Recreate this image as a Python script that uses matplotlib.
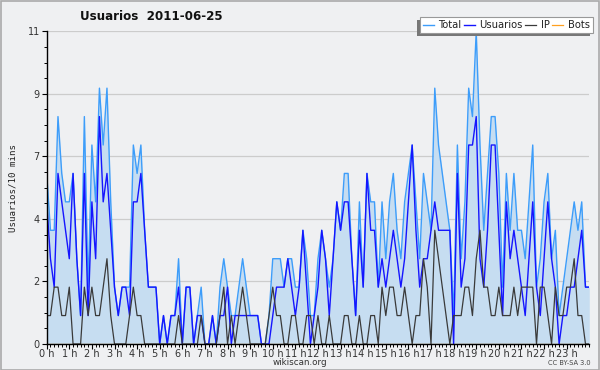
import matplotlib
matplotlib.use("Agg")
import matplotlib.pyplot as plt
from matplotlib.patches import Rectangle
import numpy as np

# values per 10-minute slot, 0h00 .. 24h00
total = [6,4,4,8,6,5,5,6,3,1,8,2,7,5,9,7,9,5,2,1,2,2,2,7,
         6,7,4,2,2,2,0,1,0,1,1,3,0,2,2,0,1,2,0,0,1,0,2,3,
         2,1,1,2,3,2,1,1,1,0,0,1,3,3,3,2,3,3,2,2,4,3,1,1,
         3,4,3,2,3,5,4,6,6,3,1,5,2,6,5,5,2,5,3,5,6,4,3,5,
         6,7,5,3,6,5,4,9,7,6,5,4,1,7,3,5,9,8,11,7,4,6,8,8,
         6,2,6,4,6,4,4,3,5,7,2,3,5,6,3,4,1,2,3,4,5,4,5,2,2]
usuarios = [5,3,2,6,5,4,3,6,3,1,6,1,5,3,8,5,6,4,2,1,2,2,1,5,
            5,6,4,2,2,2,0,1,0,1,1,2,0,2,2,0,1,1,0,0,1,0,1,1,
            2,0,1,1,1,1,1,1,1,0,0,0,1,2,2,2,3,2,1,2,4,2,0,1,
            2,4,3,1,3,5,4,5,5,3,1,4,2,6,4,4,2,3,2,3,4,3,2,3,
            5,7,4,2,3,3,4,5,4,4,4,4,0,6,2,3,7,7,8,3,2,4,7,7,
            4,1,5,3,4,3,2,1,3,5,2,1,3,5,3,2,0,1,1,2,2,3,4,2,2]
ip = [1,1,2,2,1,1,2,0,0,0,2,1,2,1,1,2,3,1,0,0,0,0,1,2,
      1,1,0,0,0,0,0,0,0,0,0,1,0,0,0,0,0,1,0,0,0,0,1,2,
      0,1,0,1,2,1,0,0,0,0,0,1,2,1,1,0,0,1,1,0,0,1,1,0,
      1,0,0,1,0,0,0,1,1,0,0,1,0,0,1,1,0,2,1,2,2,1,1,2,
      1,0,1,1,3,2,0,4,3,2,1,0,1,1,1,2,2,1,3,4,2,2,1,1,
      2,1,1,1,2,1,2,2,2,2,0,2,2,1,0,2,1,1,2,2,3,1,1,0,0]
bots = [0,0,0,0,0,0,0,0,0,0,0,0,0,0,0,0,0,0,0,0,0,0,0,0,
        0,0,0,0,0,0,0,0,0,0,0,0,0,0,0,0,0,0,0,0,0,0,0,0,
        0,0,0,0,0,0,0,0,0,0,0,0,0,0,0,0,0,0,0,0,0,0,0,0,
        0,0,0,0,0,0,0,0,0,0,0,0,0,0,0,0,0,0,0,0,0,0,0,0,
        0,0,0,0,0,0,0,0,0,0,0,0,0,0,0,0,0,0,0,0,0,0,0,0,
        0,0,0,0,0,0,0,0,0,0,0,0,0,0,0,0,0,0,0,0,0,0,0,0,0]
hour_labels = [f"{h} h" for h in range(24)]
y_ticks = [0, 2.2, 4.4, 6.6, 8.8, 11]
y_labels = ["0", "2", "4", "7", "9", "11"]

bg = "#eff0f2"
fig = plt.figure(figsize=(6, 3.7), dpi=100, facecolor=bg)
fig.patches.append(Rectangle((0.001, 0.001), 0.997, 0.996, transform=fig.transFigure,
                             fill=False, edgecolor="#aaaaaa", linewidth=1.2, zorder=0))
ax = fig.add_axes([0.0778, 0.0703, 0.9043, 0.8451])
ax.set_facecolor(bg)

x = np.arange(len(total))
ax.fill_between(x, 0, total, color="#c6ddf1", linewidth=0, zorder=1)
ax.plot(x, total, color="#3d9dfa", linewidth=1.0, zorder=3, label="Total")
ax.plot(x, usuarios, color="#1515ff", linewidth=1.0, zorder=4, label="Usuarios")
ax.plot(x, ip, color="#3a3a3a", linewidth=0.9, zorder=5, label="IP")
ax.plot(x, bots, color="#ffa020", linewidth=0.9, zorder=2, label="Bots")

ax.set_xlim(0, 144)
ax.set_ylim(0, 11)
ax.set_yticks(y_ticks)
ax.set_yticklabels(y_labels)
ax.set_yticks(np.arange(0, 11.01, 0.55), minor=True)
ax.set_xticks(np.arange(0, 144, 6))
ax.set_xticklabels(hour_labels)
ax.set_xticks(np.arange(0, 145, 1), minor=True)
ax.tick_params(axis="both", which="major", length=3.5, width=0.8, color="black",
               labelsize=7, labelcolor="#333333")
ax.tick_params(axis="x", which="major", pad=0.3)
ax.tick_params(axis="y", which="major", pad=1.5)
ax.tick_params(axis="both", which="minor", length=2.5, width=0.7, color="black")
ax.grid(axis="y", which="major", color="#cccccc", linewidth=0.9, zorder=0)
ax.set_axisbelow(True)
for s in ["top", "right"]:
    ax.spines[s].set_visible(False)
for s in ["left", "bottom"]:
    ax.spines[s].set_color("black")
    ax.spines[s].set_linewidth(1.0)
    ax.spines[s].set_zorder(6)

ax.set_ylabel("Usuarios/10 mins", family="DejaVu Sans Mono", fontsize=6.6,
              color="#222222", labelpad=7)
fig.text(0.252, 0.955, "Usuarios  2011-06-25", ha="center", va="center",
         fontsize=8.6, fontweight="bold", color="#111111")
fig.text(0.5, 0.02, "wikiscan.org", ha="center", va="center", fontsize=6.3, color="#333333")
fig.text(0.985, 0.02, "CC BY-SA 3.0", ha="right", va="center", fontsize=4.8, color="#444444")

leg = fig.legend(loc="upper right", bbox_to_anchor=(0.988, 0.953), ncol=4,
                 fontsize=7.2, frameon=True, fancybox=False, edgecolor="#999999",
                 facecolor="white", framealpha=1, handlelength=1.1, handletextpad=0.45,
                 columnspacing=0.25, borderpad=0.3, borderaxespad=0)
leg.get_frame().set_linewidth(0.8)
for t in leg.get_texts():
    t.set_color("#222222")
fig.canvas.draw()
bb = leg.get_window_extent()
inv = fig.transFigure.inverted()
(x0, y0), (x1, y1) = inv.transform([(bb.x0 - 3, bb.y0 - 3), (bb.x1 - 3, bb.y1 - 3)])
fig.patches.append(Rectangle((x0, y0), x1 - x0, y1 - y0, transform=fig.transFigure,
                             facecolor="#777777", edgecolor="none", zorder=4))

fig.savefig("out.png", dpi=100, facecolor=bg)
